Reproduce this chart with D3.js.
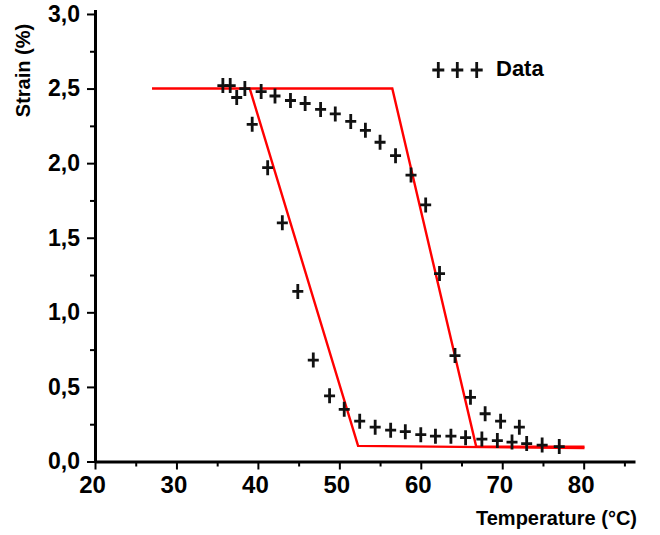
<!DOCTYPE html>
<html>
<head>
    <meta charset="utf-8">
    <title>Strain vs Temperature</title>
    <script src="https://d3js.org/d3.v7.min.js"></script>
    <style>
        body {
            margin: 0;
            background: #ffffff;
        }
        svg text {
            font-family: "Liberation Sans", Arial, sans-serif;
            font-weight: bold;
            fill: #000;
        }
    </style>
</head>
<body>
    <div id="chart"></div>
    <script>
// Measured data - heating branch
const heatTemp = [36.6, 38.4, 40.4, 42.1, 44.0, 45.8, 47.7, 49.5, 51.4, 53.2, 55.0, 56.9, 58.8, 60.6, 62.3, 64.2, 66.1, 67.9, 69.8, 72.1];
const heatStrain = [2.52, 2.50, 2.48, 2.45, 2.42, 2.40, 2.36, 2.33, 2.28, 2.22, 2.14, 2.05, 1.92, 1.72, 1.26, 0.71, 0.43, 0.32, 0.27, 0.23];

// Measured data - cooling branch
const coolTemp = [35.7, 37.4, 39.3, 41.2, 43.0, 44.9, 46.8, 48.8, 50.6, 52.5, 54.4, 56.3, 58.1, 60.0, 61.8, 63.7, 65.5, 67.5, 69.4, 71.2, 73.0, 74.9, 77.0];
const coolStrain = [2.52, 2.44, 2.26, 1.97, 1.60, 1.14, 0.68, 0.44, 0.35, 0.27, 0.23, 0.21, 0.20, 0.18, 0.17, 0.17, 0.16, 0.15, 0.14, 0.13, 0.12, 0.11, 0.10];

// Model (red lines)
const modelHeatTemp = [27.0, 56.5, 66.8, 80.1];
const modelHeatStrain = [2.5, 2.5, 0.1, 0.1];
const modelCoolTemp = [80.1, 52.3, 39.0];
const modelCoolStrain = [0.09, 0.105, 2.5];

// Axis ticks
const xMajorTicks = [20, 30, 40, 50, 60, 70, 80];
const xMinorTicks = [25, 35, 45, 55, 65, 75, 85];
const yMajorTicks = [0, 0.5, 1.0, 1.5, 2.0, 2.5, 3.0];
const yMinorTicks = [0.25, 0.75, 1.25, 1.75, 2.25, 2.75];

const width = 660;
const height = 535;

const svg = d3.select('#chart')
    .append('svg')
    .attr('width', width)
    .attr('height', height);

// Scales
const x = d3.scaleLinear().domain([20, 86.3]).range([95, 635]);
const y = d3.scaleLinear().domain([0, 3.03]).range([461.5, 9.5]);

const fmt = d => d3.format('.1f')(d).replace('.', ',');

// X axis
const xAxis = svg.append('g')
    .attr('transform', `translate(0,${y(0)})`)
    .call(d3.axisBottom(x).tickValues(xMajorTicks).tickSize(8).tickSizeOuter(0).tickPadding(6));
xAxis.select('.domain').attr('stroke-width', 3);
xAxis.selectAll('.tick line').attr('stroke-width', 2);
xAxis.selectAll('.tick text')
    .style('font-size', '24px')
    .attr('dx', '-3');

svg.append('g')
    .attr('transform', `translate(0,${y(0)})`)
    .call(d3.axisBottom(x).tickValues(xMinorTicks).tickSize(5).tickFormat(''))
    .call(g => g.select('.domain').remove())
    .selectAll('.tick line').attr('stroke-width', 2);

// Y axis
const yAxis = svg.append('g')
    .attr('transform', `translate(${x(20)},0)`)
    .call(d3.axisLeft(y).tickValues(yMajorTicks).tickSize(8).tickSizeOuter(0).tickPadding(7).tickFormat(fmt));
yAxis.select('.domain').attr('stroke-width', 3);
yAxis.selectAll('.tick line').attr('stroke-width', 2);
yAxis.selectAll('.tick text').style('font-size', '23px');

svg.append('g')
    .attr('transform', `translate(${x(20)},0)`)
    .call(d3.axisLeft(y).tickValues(yMinorTicks).tickSize(5).tickFormat(''))
    .call(g => g.select('.domain').remove())
    .selectAll('.tick line').attr('stroke-width', 2);

// Axis titles
svg.append('text')
    .attr('transform', 'translate(29.5,70.5) rotate(-90)')
    .attr('text-anchor', 'middle')
    .style('font-size', '20px')
    .text('Strain (%)');

svg.append('text')
    .attr('x', 637)
    .attr('y', 524.5)
    .attr('text-anchor', 'end')
    .style('font-size', '20px')
    .text('Temperature (°C)');

// Model lines
const line = d3.line().x(d => x(d[0])).y(d => y(d[1]));

svg.append('path')
    .datum(d3.zip(modelHeatTemp, modelHeatStrain))
    .attr('d', line)
    .attr('fill', 'none')
    .attr('stroke', '#ff0000')
    .attr('stroke-width', 2.4);

svg.append('path')
    .datum(d3.zip(modelCoolTemp, modelCoolStrain))
    .attr('d', line)
    .attr('fill', 'none')
    .attr('stroke', '#ff0000')
    .attr('stroke-width', 2.4);

// Cross marker
const cross = (w, h) => `M${-w / 2},0H${w / 2}M0,${-h / 2}V${h / 2}`;

const points = [...d3.zip(heatTemp, heatStrain), ...d3.zip(coolTemp, coolStrain)];

svg.append('g')
    .selectAll('path')
    .data(points)
    .enter()
    .append('path')
    .attr('transform', d => `translate(${x(d[0])},${y(d[1])})`)
    .attr('d', cross(11, 15))
    .attr('stroke', '#111')
    .attr('stroke-width', 2.8)
    .attr('fill', 'none');

// Legend
const legend = svg.append('g');
[438.3, 457.3, 476.7].forEach(cx => {
    legend.append('path')
        .attr('transform', `translate(${cx},70)`)
        .attr('d', cross(12, 16))
        .attr('stroke', '#111')
        .attr('stroke-width', 2.8)
        .attr('fill', 'none');
});
legend.append('text')
    .attr('x', 496)
    .attr('y', 76)
    .style('font-size', '22px')
    .text('Data');
    </script>
</body>
</html>
